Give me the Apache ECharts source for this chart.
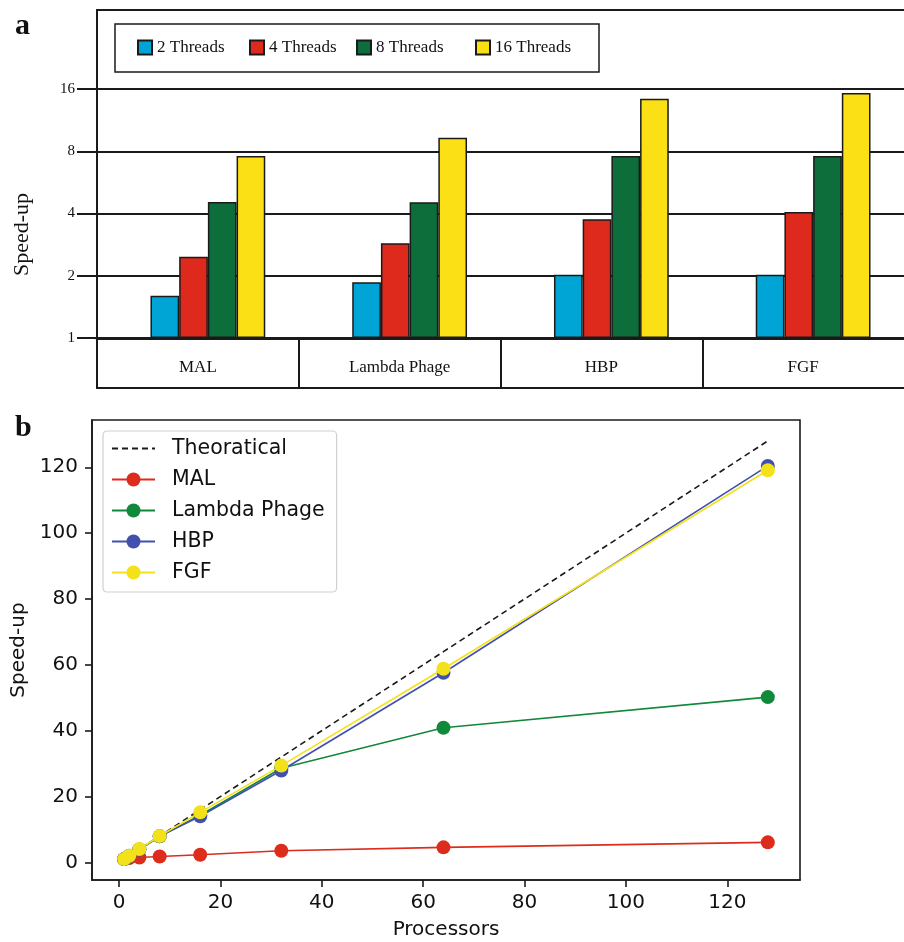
<!DOCTYPE html>
<html><head><meta charset="utf-8">
<script src="https://cdn.jsdelivr.net/npm/echarts@6/dist/echarts.min.js"></script>
<style>html,body{margin:0;padding:0;background:#fff}#c{width:904px;height:942px}</style>
</head><body><div id="c"></div>
<script>
// ---- panel a data ----
const barCategories = ['MAL', 'Lambda Phage', 'HBP', 'FGF'];
const threadNames = ['2 Threads', '4 Threads', '8 Threads', '16 Threads'];
const speedup2 = [1.60, 1.86, 2.02, 2.02];
const speedup4 = [2.47, 2.87, 3.75, 4.07];
const speedup8 = [4.55, 4.53, 7.59, 7.59];
const speedup16 = [7.59, 9.30, 14.37, 15.3];
const barYTicks = [1, 2, 4, 8, 16];

// ---- panel b data ----
const lineNames = ['Theoratical', 'MAL', 'Lambda Phage', 'HBP', 'FGF'];
const processors = [1, 2, 4, 8, 16, 32, 64, 128];
const theoretical = [1, 2, 4, 8, 16, 32, 64, 128];
const malSpeedup = [1.0, 1.3, 1.5, 1.8, 2.3, 3.55, 4.56, 6.08];
const lambdaSpeedup = [1.0, 2.0, 3.9, 7.9, 14.3, 28.6, 40.9, 50.2];
const hbpSpeedup = [1.0, 1.95, 3.9, 7.9, 14.0, 27.9, 57.6, 120.4];
const fgfSpeedup = [1.0, 2.0, 4.05, 8.0, 15.2, 29.4, 58.8, 119.1];
const lineTicks = [0, 20, 40, 60, 80, 100, 120];

const barColors = ['#00a5d5', '#dd2a1d', '#0e6e3b', '#fbe016'];
const lineColors = ['#1a1a1a', '#dd2c1c', '#11893a', '#4150ad', '#f3e21a'];
const serif = "'Liberation Serif', 'DejaVu Serif', serif";
const sans = "'DejaVu Sans', sans-serif";
const ink = '#1a1a1a';

const barData = [speedup2, speedup4, speedup8, speedup16];
const lineData = [theoretical, malSpeedup, lambdaSpeedup, hbpSpeedup, fgfSpeedup];
const pairs = arr => processors.map((p, i) => [p, arr[i]]);

const chart = echarts.init(document.getElementById('c'), null, {renderer: 'canvas'});

const barLegendLeft = [137, 249, 356, 475];

const series = [];
// spacer slot so that bar groups sit right of band centre, as in the reference
series.push({name: '_spacer', type: 'bar', xAxisIndex: 0, yAxisIndex: 0, data: [null, null, null, null], barWidth: 20, barGap: '0%', silent: true});
threadNames.forEach((n, i) => {
  series.push({
    name: n, type: 'bar', xAxisIndex: 0, yAxisIndex: 0,
    data: barData[i], barWidth: 28.7, barGap: '0%',
    itemStyle: {color: barColors[i], borderColor: ink, borderWidth: 1.5}
  });
});
lineNames.forEach((n, i) => {
  const s = {
    name: n, type: 'line', xAxisIndex: 3, yAxisIndex: 2,
    data: pairs(lineData[i]),
    lineStyle: {color: lineColors[i], width: 1.6},
    itemStyle: {color: lineColors[i]},
    symbol: 'circle', symbolSize: 14, z: 3 + i,
    animation: false
  };
  if (i === 0) {
    s.symbol = 'none';
    s.lineStyle.type = [6, 4];
  }
  series.push(s);
});

const lineLegendData = lineNames.map((n, i) => i === 0 ? {name: n, itemStyle: {opacity: 0}} : {name: n});

const option = {
  animation: false,
  backgroundColor: '#fff',
  grid: [
    {left: 97, top: 89, width: 808, height: 249},
    {left: 97, top: 338, width: 808, height: 50},
    {left: 92, top: 420, width: 708, height: 460, show: true, borderColor: ink, borderWidth: 1.6, backgroundColor: 'transparent'}
  ],
  xAxis: [
    {gridIndex: 0, type: 'category', data: barCategories,
     axisLine: {show: true, lineStyle: {color: ink, width: 3}}, axisTick: {show: false}, axisLabel: {show: false}},
    {gridIndex: 1, type: 'category', data: barCategories, position: 'top',
     axisLine: {show: true, lineStyle: {color: ink, width: 2}}, axisTick: {show: false}, axisLabel: {show: false},
     splitLine: {show: true, showMaxLine: false, lineStyle: {color: ink, width: 2}}},
    {gridIndex: 1, type: 'category', data: barCategories, position: 'bottom',
     axisLine: {show: true, lineStyle: {color: ink, width: 2}}, axisTick: {show: false},
     axisLabel: {show: true, inside: true, margin: 12, fontFamily: serif, fontSize: 17, color: '#111'}},
    {gridIndex: 2, type: 'value', min: -5.35, max: 134.35,
     name: 'Processors', nameLocation: 'middle', nameGap: 40,
     nameTextStyle: {fontFamily: sans, fontSize: 20, color: '#111'},
     axisLine: {show: true, onZero: false, lineStyle: {color: ink, width: 1.6}},
     axisTick: {show: true, customValues: lineTicks, length: 7, lineStyle: {color: ink, width: 1.6}},
     axisLabel: {show: true, customValues: lineTicks, margin: 13, fontFamily: sans, fontSize: 20, color: '#111'},
     splitLine: {show: false}}
  ],
  yAxis: [
    {gridIndex: 0, type: 'log', logBase: 2, min: 1, max: 16, interval: 1, splitNumber: 4,
     name: 'Speed-up', nameLocation: 'middle', nameGap: 64,
     nameTextStyle: {fontFamily: serif, fontSize: 22, color: '#111', padding: [0, 42, 0, 0]},
     axisLine: {show: true, lineStyle: {color: ink, width: 2}},
     axisTick: {show: true, length: 20, lineStyle: {color: ink, width: 2}},
     axisLabel: {margin: 22, fontFamily: serif, fontSize: 15, color: '#111'},
     splitLine: {show: true, lineStyle: {color: ink, width: 2}}},
    {gridIndex: 1, type: 'value', show: false},
    {gridIndex: 2, type: 'value', min: -5.35, max: 134.35,
     name: 'Speed-up', nameLocation: 'middle', nameGap: 62,
     nameTextStyle: {fontFamily: sans, fontSize: 20, color: '#111'},
     axisLine: {show: true, onZero: false, lineStyle: {color: ink, width: 1.6}},
     axisTick: {show: true, customValues: lineTicks, length: 7, lineStyle: {color: ink, width: 1.6}},
     axisLabel: {show: true, customValues: lineTicks, margin: 14, fontFamily: sans, fontSize: 20, color: '#111'},
     splitLine: {show: false}}
  ],
  legend: threadNames.map((n, i) => ({
    data: [n], left: barLegendLeft[i], top: 39, padding: 0, icon: 'rect',
    itemWidth: 14, itemHeight: 14, selectedMode: false,
    textStyle: {fontFamily: serif, fontSize: 17, color: '#111'}
  })).concat([{
    data: lineLegendData, orient: 'vertical', left: 103, top: 431,
    padding: [7, 12, 9, 8], itemGap: 10, itemWidth: 43, itemHeight: 17.5,
    borderColor: '#d0d0d0', borderWidth: 1.2, borderRadius: 4,
    backgroundColor: 'rgba(255,255,255,0.85)', selectedMode: false,
    textStyle: {fontFamily: sans, fontSize: 20.5, color: '#111', padding: [0, 0, 0, 12]}
  }]),
  graphic: [
    {type: 'polyline', shape: {points: [[97, 89], [97, 10], [906, 10]]}, style: {stroke: ink, lineWidth: 2, fill: null}, silent: true},
    {type: 'rect', shape: {x: 115, y: 24, width: 484, height: 48}, style: {stroke: ink, lineWidth: 1.5, fill: 'rgba(0,0,0,0)'}, silent: true, z: -1},
    {type: 'text', left: 15, top: 11, style: {text: 'a', font: "bold 30px 'Liberation Serif', serif", fill: '#111'}},
    {type: 'text', left: 15, top: 413, style: {text: 'b', font: "bold 30px 'Liberation Serif', serif", fill: '#111'}}
  ],
  series: series
};
chart.setOption(option);
</script></body></html>
